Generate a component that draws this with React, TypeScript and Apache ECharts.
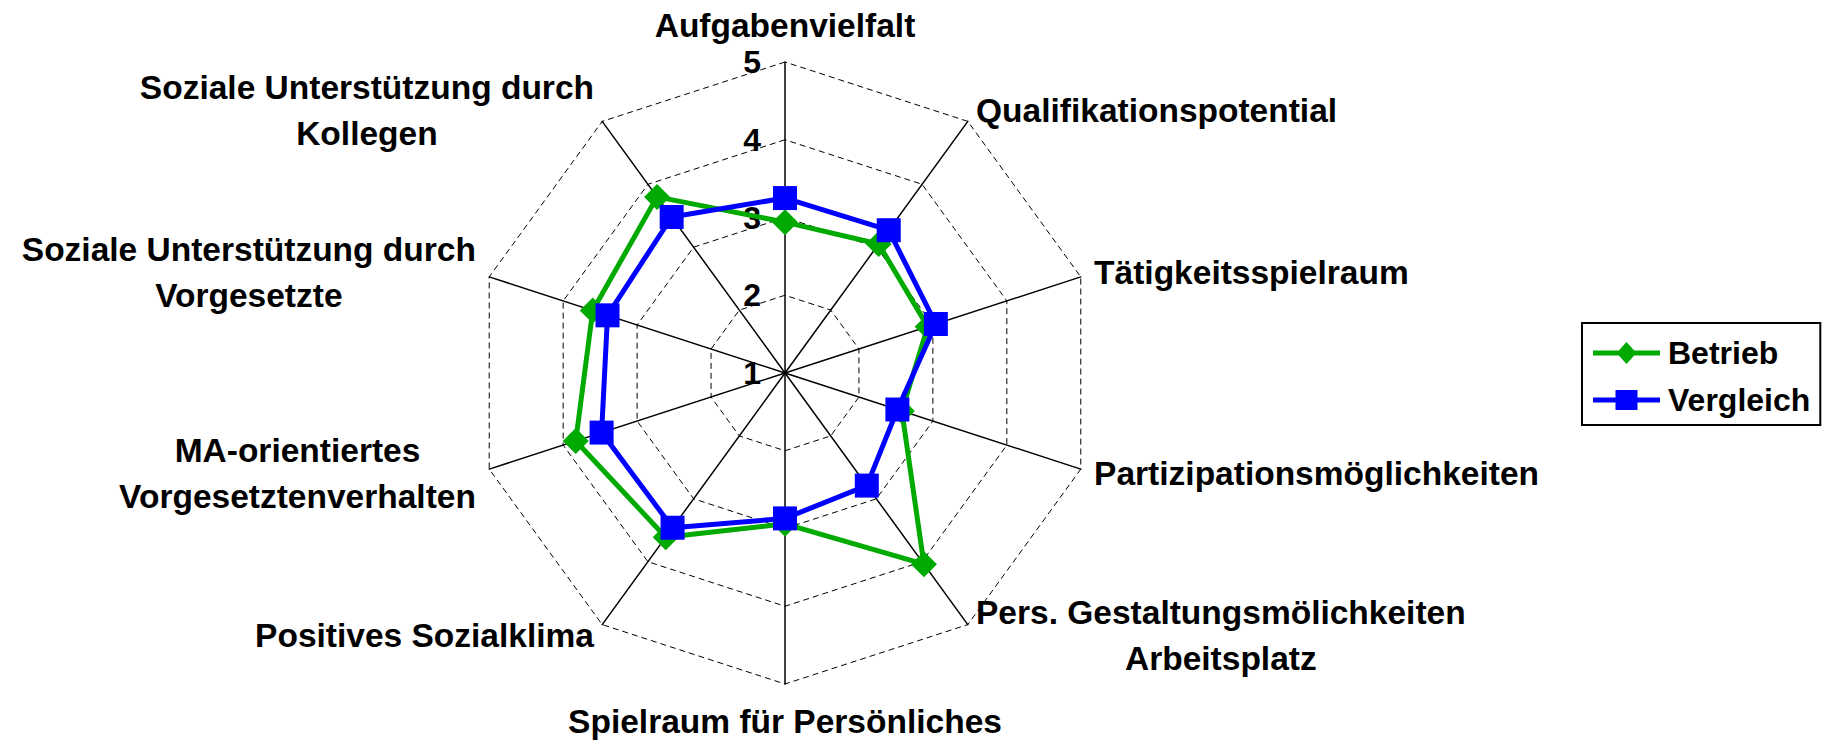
import React, { useEffect, useRef } from "react";
import * as echarts from "echarts";

// Categories, clockwise starting at the top
const CATEGORIES = [
  "Aufgabenvielfalt",
  "Qualifikationspotential",
  "Tätigkeitsspielraum",
  "Partizipationsmöglichkeiten",
  "Pers. Gestaltungsmölichkeiten\nArbeitsplatz",
  "Spielraum für Persönliches",
  "Positives Sozialklima",
  "MA-orientiertes\nVorgesetztenverhalten",
  "Soziale Unterstützung durch\nVorgesetzte",
  "Soziale Unterstützung durch\nKollegen",
];
const BETRIEB = [2.94, 3.05, 2.93, 2.58, 4.04, 2.94, 3.61, 3.83, 3.6, 3.8];
const VERGLEICH = [3.25, 3.27, 3.04, 2.52, 2.79, 2.87, 3.46, 3.48, 3.4, 3.48];
const SERIES_NAMES = ["Betrieb", "Vergleich"];
const AXIS_MIN = 1;
const AXIS_MAX = 5;
const SPLITS = 4;

const FONT = '"Liberation Sans", Arial, Helvetica, sans-serif';
const GREEN = "#00aa00";
const BLUE = "#0000ff";

// ECharts radar runs counter-clockwise; reorder so the chart reads clockwise.
function ccw<T>(arr: T[]): T[] {
  const n = arr.length;
  return arr.map((_, i) => arr[i === 0 ? 0 : n - i]);
}

const DIAMOND_ICON =
  "path://M0,8.5 L67,8.5 L67,13.5 L0,13.5 Z M33.5,0 L43.5,11 L33.5,22 L23.5,11 Z";
const SQUARE_ICON =
  "path://M0,8.5 L67,8.5 L67,13.5 L0,13.5 Z M22.5,1 L44.5,1 L44.5,21 L22.5,21 Z M0,0 L0.01,0 L0.01,0.01 Z M0,22 L0.01,22 L0.01,21.99 Z";

export default function App() {
  const ref = useRef<HTMLDivElement>(null);

  useEffect(() => {
    if (!ref.current) return;
    const chart = echarts.init(ref.current, undefined, { renderer: "svg" });

    const indicators = ccw(CATEGORIES).map((name, i) => {
      const ind: any = { name, min: AXIS_MIN, max: AXIS_MAX };
      if (i === 0) {
        ind.axisLabel = {
          show: true,
          margin: 24,
          fontSize: 32,
          fontWeight: "bold",
          fontFamily: FONT,
          color: "#000",
        };
      }
      return ind;
    });

    const option: any = {
      animation: false,
      backgroundColor: "#fff",
      legend: {
        orient: "vertical",
        left: 1582,
        top: 323,
        padding: [12, 10, 7, 11],
        borderColor: "#000",
        borderWidth: 2,
        itemWidth: 67,
        itemHeight: 22,
        itemGap: 11,
        itemStyle: { borderWidth: 0 },
        textStyle: {
          fontSize: 32,
          fontWeight: "bold",
          fontFamily: FONT,
          color: "#000",
          lineHeight: 36,
          padding: [0, 0, 0, 3],
        },
        data: [
          { name: SERIES_NAMES[0], icon: DIAMOND_ICON },
          { name: SERIES_NAMES[1], icon: SQUARE_ICON },
        ],
      },
      radar: {
        center: [785, 373],
        radius: 311,
        startAngle: 90,
        shape: "polygon",
        splitNumber: SPLITS,
        nameGap: 14,
        indicator: indicators,
        axisName: {
          color: "#000",
          fontSize: 33.5,
          fontWeight: "bold",
          fontFamily: FONT,
          formatter: (name: string) =>
            name
              .split("\n")
              .map((l) => `{c|${l}}`)
              .join("\n"),
          rich: {
            c: {
              align: "center",
              color: "#000",
              fontSize: 33.5,
              fontWeight: "bold",
              fontFamily: FONT,
              lineHeight: 46,
            },
          },
        },
        axisLine: { show: true, lineStyle: { color: "#000", width: 1.5 } },
        axisTick: { show: false },
        axisLabel: { show: false },
        splitLine: {
          show: true,
          lineStyle: { color: "#000", width: 1, type: [6, 4] },
        },
        splitArea: { show: false },
      },
      series: [
        {
          type: "radar",
          name: SERIES_NAMES[0],
          z: 2,
          symbol: "diamond",
          symbolSize: 26,
          color: GREEN,
          itemStyle: { color: GREEN },
          lineStyle: { color: GREEN, width: 5 },
          data: [{ name: SERIES_NAMES[0], value: ccw(BETRIEB) }],
        },
        {
          type: "radar",
          name: SERIES_NAMES[1],
          z: 3,
          symbol: "rect",
          symbolSize: 24,
          color: BLUE,
          itemStyle: { color: BLUE },
          lineStyle: { color: BLUE, width: 5 },
          data: [{ name: SERIES_NAMES[1], value: ccw(VERGLEICH) }],
        },
      ],
    };

    chart.setOption(option);
    return () => chart.dispose();
  }, []);

  return (
    <div
      ref={ref}
      style={{ position: "absolute", left: 0, top: 0, width: 1834, height: 743 }}
    />
  );
}
